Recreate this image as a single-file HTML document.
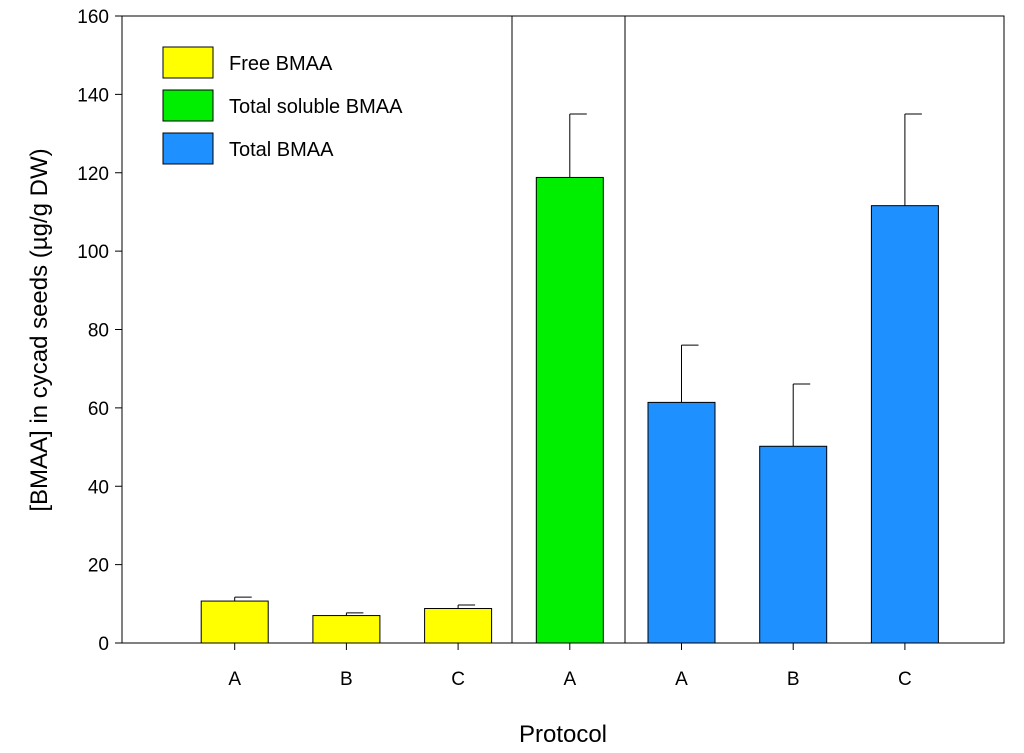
<!DOCTYPE html>
<html><head><meta charset="utf-8"><style>
body{margin:0;background:#fff}
svg{display:block;font-family:"Liberation Sans",sans-serif}
</style></head><body>
<svg id="chart" width="1024" height="753">
<g id="axes"></g>
<g id="bars"></g>
<g id="legend"></g>
</svg>
<script>
const categories=["A","B","C","A","A","B","C"];
const values=[10.7,7.0,8.8,118.8,61.4,50.2,111.6];
const errors=[1.0,0.7,0.9,16.2,14.6,15.9,23.4];
const groups=[0,0,0,1,2,2,2];
const groupColors=["#ffff00","#00ee00","#1e90ff"];
const groupNames=["Free BMAA","Total soluble BMAA","Total BMAA"];
const yTicks=[0,20,40,60,80,100,120,140,160];
const NS="http://www.w3.org/2000/svg";
const L=122,R=1004,T=16,B=643,ymax=160;
const step=111.7,bw=67;
const y=v=>B-(v/ymax)*(B-T);
const xc=i=>L+1+(i+1)*step;
function mk(tag,attrs,parent,txt){const e=document.createElementNS(NS,tag);for(const k in attrs)e.setAttribute(k,attrs[k]);if(txt!==undefined)e.textContent=txt;parent.appendChild(e);return e;}
const ax=document.getElementById('axes'),bg=document.getElementById('bars'),lg=document.getElementById('legend');
let f=mk('rect',{x:L,y:T,width:R-L,height:B-T,fill:'none',stroke:'#000','stroke-width':1},ax);


yTicks.forEach(t=>{
 let l=mk('line',{x1:L-7,x2:L,y1:y(t),y2:y(t),stroke:'#000'},ax);
 
 
 let tx=mk('text',{x:L-13,y:y(t)+7,'text-anchor':'end','font-size':19},ax,t);
 
 
});
[512,625].forEach(sx=>{
 let l=mk('line',{x1:sx,x2:sx,y1:T,y2:B,stroke:'#000'},ax);
 
 
});
values.forEach((v,i)=>{
 const cx=xc(i),e=v+errors[i];
 let el=mk('line',{x1:cx,x2:cx,y1:y(v),y2:y(e),stroke:'#000'},bg);
 
 
 let ec=mk('line',{x1:cx,x2:cx+17,y1:y(e),y2:y(e),stroke:'#000'},bg);
 
 
 let r=mk('rect',{x:cx-bw/2,y:y(v),width:bw,height:B-y(v),fill:groupColors[groups[i]],stroke:'#000'},bg);
 
 
 let tk=mk('line',{x1:cx,x2:cx,y1:B,y2:B+7,stroke:'#000'},ax);
 
 
 let t=mk('text',{x:cx,y:B+42,'text-anchor':'middle','font-size':19},ax,categories[i]);
 
 
});
let xt=mk('text',{x:563,y:742,'text-anchor':'middle','font-size':24},ax,'Protocol');


let yt=mk('text',{x:0,y:0,'text-anchor':'middle','font-size':24,transform:'translate(47,330) rotate(-90)'},ax,'[BMAA] in cycad seeds (µg/g DW)');


groupNames.forEach((n,k)=>{
 const ly=47+k*43;
 let r=mk('rect',{x:163,y:ly,width:50,height:31,fill:groupColors[k],stroke:'#000'},lg);
 
 
 let t=mk('text',{x:229,y:ly+23,'font-size':20},lg,n);
 
 
});
</script>
</body></html>
